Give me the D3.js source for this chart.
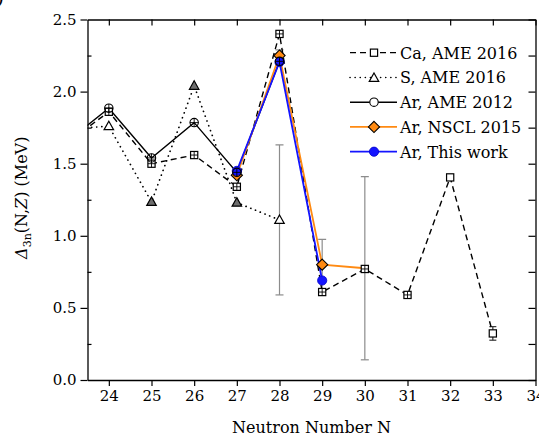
<!DOCTYPE html>
<html>
<head>
<meta charset="utf-8">
<script src="https://cdn.jsdelivr.net/npm/d3@7"></script>
<style>
  html, body { margin: 0; padding: 0; background: #fff; }
  svg { display: block; }
  text { font-family: "DejaVu Serif", serif; fill: #000; }
</style>
</head>
<body>
<svg id="chart" width="539" height="439"></svg>
<script>
// Three-neutron shell gap Δ3n(N,Z) versus neutron number N

// Ca, AME 2016
const caN   = [23, 24, 25, 26, 27, 28, 29, 30, 31, 32, 33];
const caVal = [1.64, 1.86, 1.50, 1.56, 1.34, 2.40, 0.61, 0.77, 0.59, 1.405, 0.323];
const caErr = [0, 0, 0, 0, 0, 0, 0, 0, 0, 0, 0.047];

// S, AME 2016
const sN   = [23, 24, 25, 26, 27, 28];
const sVal = [1.74, 1.76, 1.235, 2.04, 1.23, 1.11];
const sErr = [0, 0, 0, 0, 0, 0.52];

// Ar, AME 2012
const ar12N   = [23, 24, 25, 26, 27, 28];
const ar12Val = [1.65, 1.885, 1.54, 1.785, 1.44, 2.21];

// Ar, NSCL 2015
const nsclN   = [27, 28, 29, 30];
const nsclVal = [1.42, 2.25, 0.80, 0.775];
const nsclErr = [0, 0.04, 0.175, 0.635];

// Ar, this work
const thisN   = [27, 28, 29];
const thisVal = [1.45, 2.205, 0.69];

const xTicks = [24, 25, 26, 27, 28, 29, 30, 31, 32, 33, 34];
const yTicks = [0.0, 0.5, 1.0, 1.5, 2.0, 2.5];
const legendLabels = ["Ca, AME 2016", "S, AME 2016", "Ar, AME 2012", "Ar, NSCL 2015", "Ar, This work"];

// point markers that carry an inner cross, and shaded triangles
const caCrossN = [24, 25, 26, 27, 28, 29, 30, 31];
const sShadedN = [25, 26, 27];
const nsclMarkN = [27, 28, 29];

const zip = (ns, vs, es) => ns.map((n, i) => ({ n, v: vs[i], e: es ? es[i] : 0 }));
const ca = zip(caN, caVal, caErr);
const sS = zip(sN, sVal, sErr);
const ar12 = zip(ar12N, ar12Val);
const nscl = zip(nsclN, nsclVal, nsclErr);
const thisWork = zip(thisN, thisVal);

const svg = d3.select("#chart");
const L = 87.5, R = 535.5, T = 19.5, B = 380;
const x = d3.scaleLinear().domain([23.5, 34]).range([L, R]);
const y = d3.scaleLinear().domain([0, 2.5]).range([B, T]);

const ORANGE = "#ff8a12", BLUE = "#1414ff", GREY = "#8c8c8c";

svg.append("defs").append("clipPath").attr("id", "plotClip")
  .append("rect").attr("x", L).attr("y", T).attr("width", R - L).attr("height", B - T);

const plot = svg.append("g").attr("clip-path", "url(#plotClip)");
const line = d3.line().x(d => x(d.n)).y(d => y(d.v));

// error bars
function errorBars(data, color, cap) {
  const g = plot.append("g").attr("stroke", color).attr("stroke-width", 1.2).attr("fill", "none");
  data.filter(d => d.e > 0).forEach(d => {
    const cx = x(d.n), y1 = y(d.v + d.e), y0 = y(d.v - d.e);
    g.append("line").attr("x1", cx).attr("x2", cx).attr("y1", y1).attr("y2", y0);
    g.append("line").attr("x1", cx - cap).attr("x2", cx + cap).attr("y1", y1).attr("y2", y1);
    g.append("line").attr("x1", cx - cap).attr("x2", cx + cap).attr("y1", y0).attr("y2", y0);
  });
}
errorBars(sS, GREY, 4);
errorBars(nscl, GREY, 4);
errorBars(ca, "#333", 3.5);

// connecting lines
plot.append("path").datum(ca).attr("d", line).attr("fill", "none")
  .attr("stroke", "#000").attr("stroke-width", 1.4).attr("stroke-dasharray", "6,4");
plot.append("path").datum(sS).attr("d", line).attr("fill", "none")
  .attr("stroke", "#000").attr("stroke-width", 1.7).attr("stroke-linecap", "round")
  .attr("stroke-dasharray", "0.1,5");
plot.append("path").datum(ar12).attr("d", line).attr("fill", "none")
  .attr("stroke", "#000").attr("stroke-width", 1.4);
plot.append("path").datum(nscl).attr("d", line).attr("fill", "none")
  .attr("stroke", ORANGE).attr("stroke-width", 1.8);
plot.append("path").datum(thisWork).attr("d", line).attr("fill", "none")
  .attr("stroke", BLUE).attr("stroke-width", 1.8);

// marker painters
function square(g, cx, cy, cross) {
  const h = 3.6;
  g.append("rect").attr("x", cx - h).attr("y", cy - h).attr("width", 2 * h).attr("height", 2 * h)
    .attr("fill", "#fff").attr("stroke", "#000").attr("stroke-width", 1.2);
  if (cross) {
    g.append("path").attr("d", `M${cx - h},${cy}H${cx + h}M${cx},${cy - h}V${cy + h}`)
      .attr("stroke", "#000").attr("stroke-width", 0.9);
  }
}
function triangle(g, cx, cy, shaded) {
  const s = 5;
  g.append("path").attr("d", `M${cx},${cy - s}L${cx + s * 0.95},${cy + s * 0.7}L${cx - s * 0.95},${cy + s * 0.7}Z`)
    .attr("fill", shaded ? "#6e6e6e" : "#fff").attr("stroke", "#000").attr("stroke-width", 1.2)
    .attr("stroke-linejoin", "miter");
}
function openCircle(g, cx, cy, cross) {
  const r = 4.2;
  g.append("circle").attr("cx", cx).attr("cy", cy).attr("r", r)
    .attr("fill", "none").attr("stroke", "#000").attr("stroke-width", 1.1);
  if (cross) {
    g.append("path").attr("d", `M${cx - r},${cy}H${cx + r}M${cx},${cy - r}V${cy + r}`)
      .attr("stroke", "#000").attr("stroke-width", 0.9);
  }
}
function diamond(g, cx, cy) {
  const s = 5.6;
  g.append("path").attr("d", `M${cx},${cy - s}L${cx + s},${cy}L${cx},${cy + s}L${cx - s},${cy}Z`)
    .attr("fill", ORANGE).attr("stroke", "#000").attr("stroke-width", 1.1);
}
function dot(g, cx, cy) {
  g.append("circle").attr("cx", cx).attr("cy", cy).attr("r", 4.6)
    .attr("fill", BLUE).attr("stroke", "#0000c8").attr("stroke-width", 0.8);
}

// markers
const mk = plot.append("g");
ca.forEach(d => square(mk, x(d.n), y(d.v), caCrossN.includes(d.n)));
sS.forEach(d => triangle(mk, x(d.n), y(d.v), sShadedN.includes(d.n)));
nscl.filter(d => nsclMarkN.includes(d.n)).forEach(d => diamond(mk, x(d.n), y(d.v)));
thisWork.forEach(d => dot(mk, x(d.n), y(d.v)));
ar12.forEach(d => openCircle(mk, x(d.n), y(d.v), true));

// axes
const axes = svg.append("g");
const minorY = d3.range(0.25, 2.5, 0.5);
const allY = d3.range(0, 2.5001, 0.25);

axes.append("g").attr("transform", `translate(0,${B})`)
  .call(d3.axisBottom(x).tickValues(xTicks).tickFormat(d3.format("d")).tickSize(6).tickPadding(4).tickSizeOuter(0));
axes.append("g").attr("transform", `translate(0,${T})`)
  .call(d3.axisBottom(x).tickValues(xTicks).tickFormat("").tickSize(6).tickSizeOuter(0));
axes.append("g").attr("transform", `translate(${L},0)`)
  .call(d3.axisLeft(y).tickValues(yTicks).tickFormat(d3.format(".1f")).tickSize(7).tickPadding(4).tickSizeOuter(0));
const leftMinor = axes.append("g").attr("transform", `translate(${L},0)`)
  .call(d3.axisRight(y).tickValues(minorY).tickFormat("").tickSize(4).tickSizeOuter(0));
axes.append("g").attr("transform", `translate(${R},0)`)
  .call(d3.axisLeft(y).tickValues(allY).tickFormat("").tickSize(7).tickSizeOuter(0));

axes.selectAll(".domain").attr("stroke", "#000").attr("stroke-width", 1.3);
axes.selectAll(".tick line").attr("stroke", "#000").attr("stroke-width", 1.2);
axes.selectAll(".tick text").attr("font-family", "DejaVu Serif").attr("font-size", 15).attr("fill", "#000");
leftMinor.select(".domain").remove();

// axis titles
svg.append("text").attr("x", (L + R) / 2).attr("y", 433).attr("text-anchor", "middle")
  .attr("font-size", 16).text("Neutron Number N");

const yl = svg.append("text").attr("transform", `translate(27,${(T + B) / 2 - 2}) rotate(-90)`)
  .attr("text-anchor", "middle").attr("font-size", 16);
yl.append("tspan").attr("font-style", "italic").text("Δ");
yl.append("tspan").attr("font-size", 11).attr("dy", 4).text("3n");
yl.append("tspan").attr("dy", -4).text("(N,");
yl.append("tspan").attr("font-style", "italic").text("Z");
yl.append("tspan").text(") (MeV)");

// panel letter
svg.append("text").attr("x", 4).attr("y", 4).attr("text-anchor", "end").attr("font-size", 20).text("(b)");

// legend
const legendTop = 52.7, legendStep = 24.75;
const lx0 = 350, lx1 = 397, lmx = 374, ltx = 400;
const lg = svg.append("g");
const legendDraw = [
  (g, cy) => {
    g.append("line").attr("x1", lx0).attr("x2", lx1).attr("y1", cy).attr("y2", cy)
      .attr("stroke", "#000").attr("stroke-width", 1.3).attr("stroke-dasharray", "6,4");
    square(g, lmx, cy, false);
  },
  (g, cy) => {
    g.append("line").attr("x1", lx0).attr("x2", lx1).attr("y1", cy).attr("y2", cy)
      .attr("stroke", "#000").attr("stroke-width", 1.6).attr("stroke-linecap", "round").attr("stroke-dasharray", "0.1,5");
    triangle(g, lmx, cy + 0.5, false);
  },
  (g, cy) => {
    g.append("line").attr("x1", lx0).attr("x2", lx1).attr("y1", cy).attr("y2", cy)
      .attr("stroke", "#000").attr("stroke-width", 1.4);
    g.append("circle").attr("cx", lmx).attr("cy", cy).attr("r", 4.2)
      .attr("fill", "#fff").attr("stroke", "#000").attr("stroke-width", 1.1);
  },
  (g, cy) => {
    g.append("line").attr("x1", lx0).attr("x2", lx1).attr("y1", cy).attr("y2", cy)
      .attr("stroke", ORANGE).attr("stroke-width", 1.8);
    diamond(g, lmx, cy);
  },
  (g, cy) => {
    g.append("line").attr("x1", lx0).attr("x2", lx1).attr("y1", cy).attr("y2", cy)
      .attr("stroke", BLUE).attr("stroke-width", 1.8);
    dot(g, lmx, cy);
  }
];
legendLabels.forEach((label, i) => {
  const cy = legendTop + i * legendStep;
  legendDraw[i](lg, cy);
  lg.append("text").attr("x", ltx).attr("y", cy + 6).attr("font-size", 16).text(label);
});
</script>
</body>
</html>
